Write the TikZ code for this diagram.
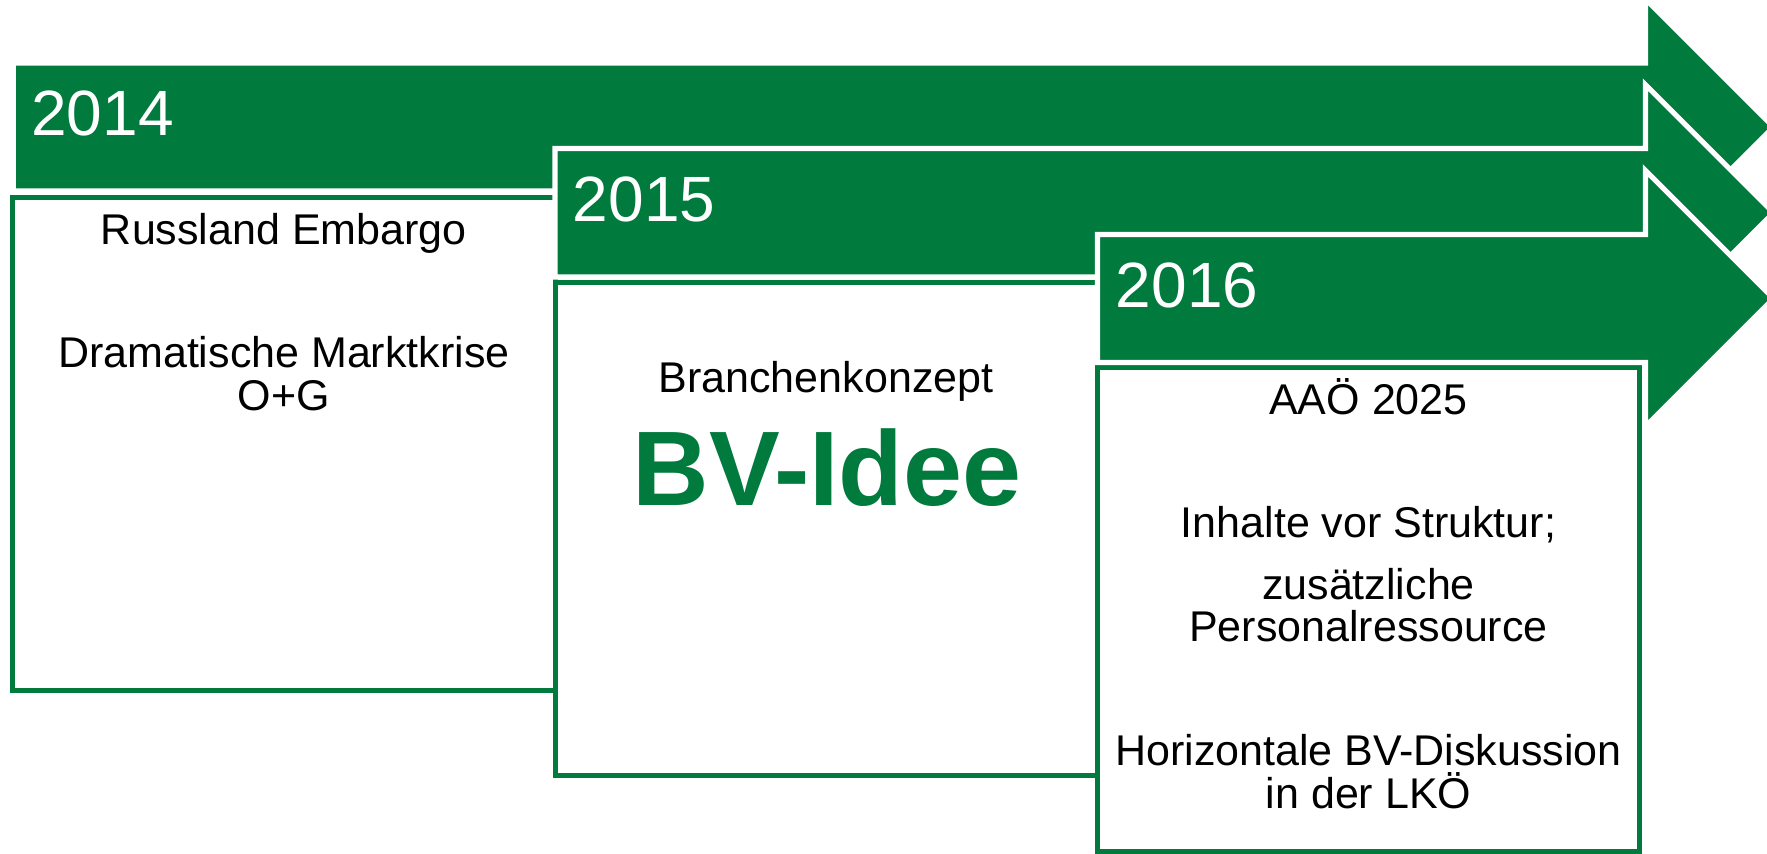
\documentclass[tikz,border=0pt]{standalone}
\usepackage{fontspec}
\setmainfont{Liberation Sans}
\definecolor{lkgreen}{RGB}{0,122,61}
\begin{document}
\begin{tikzpicture}[x=0.5pt,y=-0.5pt,
  band/.style={fill=lkgreen,draw=white,line width=2.6pt,line join=miter},
  panel/.style={fill=white,draw=lkgreen,line width=2.5pt,line join=miter},
  year/.style={anchor=base west,inner sep=0pt,text=white,font=\fontsize{32}{38}\selectfont},
  body/.style={anchor=base,inner sep=0pt,text=black,font=\fontsize{21.5}{26}\selectfont},
  big/.style={anchor=base,inner sep=0pt,text=lkgreen,font=\fontsize{53}{60}\selectfont\bfseries}]
\useasboundingbox (0,0) rectangle (1767,853);
\clip (0,0) rectangle (1767,853);

% 2014: panel and step arrow
\path[panel] (12.8,197) rectangle (555,690.5);
\path[band] (13.3,63) -- (1645.5,63) -- (1645.5,-1) -- (1773.5,127)
  -- (1645.5,255) -- (1645.5,191) -- (13.3,191) -- cycle;

% 2015: panel and step arrow
\path[panel] (555,282) rectangle (1097.5,775.5);
\path[band] (555,148.5) -- (1645.5,148.5) -- (1645.5,84.75) -- (1773.5,212.75)
  -- (1645.5,340.75) -- (1645.5,277) -- (555,277) -- cycle;

% 2016: panel and step arrow
\path[panel] (1097.5,367.5) rectangle (1639.5,851);
\path[band] (1097.5,234.5) -- (1645.5,234.5) -- (1645.5,170.5) -- (1773.5,298.5)
  -- (1645.5,426.5) -- (1645.5,362.5) -- (1097.5,362.5) -- cycle;

% years
\node[year] (y14) at (31,135.7) {2014};
\node[year] (y15) at (572.5,221.5) {2015};
\node[year] (y16) at (1115.5,307.5) {2016};

% 2014 texts
\node[body] (t14a) at (283.8,244) {Russland Embargo};
\node[body] (t14b) at (283.8,367) {Dramatische Marktkrise};
\node[body] (t14c) at (283.8,410) {O+G};

% 2015 texts
\node[body] (t15a) at (826,392) {Branchenkonzept};
\node[big] (t15b) at (827,505.5) {BV-Idee};

% 2016 texts
\node[body] (t16a) at (1368.5,414) {AAÖ 2025};
\node[body] (t16b) at (1368.5,537.5) {Inhalte vor Struktur;};
\node[body] (t16c) at (1368.5,599) {zusätzliche};
\node[body] (t16d) at (1368.5,641.5) {Personalressource};
\node[body] (t16e) at (1368.5,765) {Horizontale BV-Diskussion};
\node[body] (t16f) at (1368.5,808) {in der LKÖ};
\end{tikzpicture}
\end{document}
